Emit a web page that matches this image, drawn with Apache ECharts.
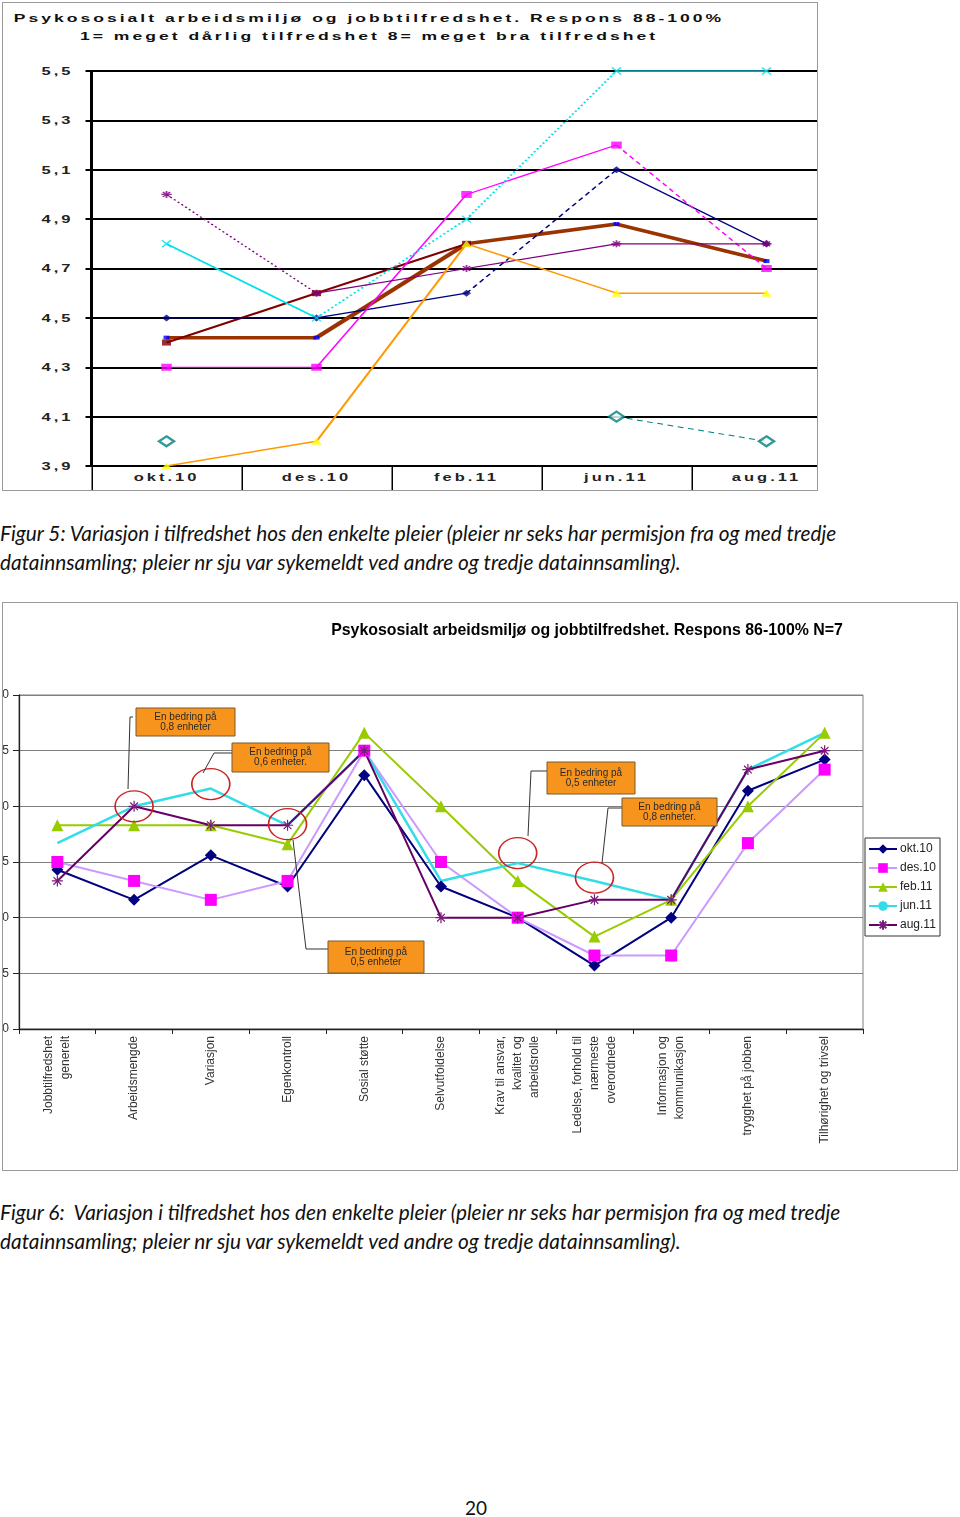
<!DOCTYPE html>
<html><head><meta charset="utf-8">
<script src="https://cdn.jsdelivr.net/npm/echarts@6/dist/echarts.min.js"></script>
<style>
html,body{margin:0;padding:0;background:#fff;}
body{width:960px;height:1517px;position:relative;overflow:hidden;font-family:'Liberation Sans',Arial,sans-serif;}
#box1{position:absolute;left:2px;top:2px;width:816px;height:489px;border:1px solid #9a9a9a;box-sizing:border-box;overflow:hidden;background:#fff;}
#c1{position:absolute;left:-3px;top:-3px;width:600px;height:494px;transform:scaleX(1.5);transform-origin:0 0;}
#c1 text{letter-spacing:2px;}
#box2{position:absolute;left:2px;top:602px;width:956px;height:569px;border:1px solid #9a9a9a;box-sizing:border-box;overflow:hidden;background:#fff;}
#c2{position:absolute;left:0;top:0;width:954px;height:567px;}
.cap{position:absolute;left:0;font-family:Lato,'Noto Sans',sans-serif;font-style:italic;font-size:20.8px;white-space:pre;color:#111;line-height:24px;}
#pg{position:absolute;left:0;width:952px;text-align:center;top:1497px;font-family:Lato,sans-serif;font-size:19px;line-height:22px;color:#111;}
</style></head>
<body>
<div id="box1"><div id="c1"></div></div>
<div class="cap" style="top:521px">Figur 5: Variasjon i tilfredshet hos den enkelte pleier (pleier nr seks har permisjon fra og med tredje</div>
<div class="cap" style="top:550px">datainnsamling; pleier nr sju var sykemeldt ved andre og tredje datainnsamling).</div>
<div id="box2"><div id="c2"></div></div>
<div class="cap" style="top:1200px">Figur 6:  Variasjon i tilfredshet hos den enkelte pleier (pleier nr seks har permisjon fra og med tredje</div>
<div class="cap" style="top:1229px">datainnsamling; pleier nr sju var sykemeldt ved andre og tredje datainnsamling).</div>
<div id="pg">20</div>
<script>
// ---------- Figure 5 data ----------
const cats1 = ['okt.10', 'des.10', 'feb.11', 'jun.11', 'aug.11'];
const yTicks1 = [3.9, 4.1, 4.3, 4.5, 4.7, 4.9, 5.1, 5.3, 5.5];
const pleierA = [4.5, 4.5, 4.6, 5.1, 4.8];
const pleierB = [4.3, 4.3, 5.0, 5.2, 4.7];
const pleierC = [4.8, 4.5, 4.9, 5.5, 5.5];
const pleierD = [5.0, 4.6, 4.7, 4.8, 4.8];
const pleierE = [4.4, 4.6, 4.8, null, null];
const pleierF = [4.42, 4.42, 4.8, 4.88, 4.73];
const pleierG = [3.9, 4.0, 4.8, 4.6, 4.6];
const pleierH = [4.0, null, null, 4.1, 4.0];
const title1a = 'Psykososialt arbeidsmiljø og jobbtilfredshet. Respons 88-100%';
const title1b = '1= meget dårlig tilfredshet 8= meget bra tilfredshet';

// ---------- Figure 6 data ----------
const cats2 = ['Jobbtilfredshet\ngenerelt', 'Arbeidsmengde', 'Variasjon', 'Egenkontroll', 'Sosial støtte',
  'Selvutfoldelse', 'Krav til ansvar,\nkvalitet og\narbeidsrolle', 'Ledelse, forhold til\nnærmeste\noverordnede',
  'Informasjon og\nkommunikasjon', 'trygghet på jobben', 'Tilhørighet og trivsel'];
const seriesNames2 = ['okt.10', 'des.10', 'feb.11', 'jun.11', 'aug.11'];
const okt10 = [4.43, 4.16, 4.56, 4.28, 5.28, 4.28, 4.0, 3.57, 4.0, 5.14, 5.42];
const des10 = [4.5, 4.33, 4.16, 4.33, 5.5, 4.5, 4.0, 3.66, 3.66, 4.67, 5.33];
const feb11 = [4.83, 4.83, 4.83, 4.66, 5.66, 5.0, 4.33, 3.83, 4.16, 5.0, 5.66];
const jun11 = [4.67, 5.0, 5.16, 4.83, 5.5, 4.33, 4.49, 4.33, 4.16, 5.33, 5.66];
const aug11 = [4.33, 5.0, 4.83, 4.83, 5.5, 4.0, 4.0, 4.16, 4.16, 5.33, 5.5];
const title2 = 'Psykososialt arbeidsmiljø og jobbtilfredshet. Respons 86-100% N=7';
const noteTexts = ['En bedring på\n0,8 enheter', 'En bedring på\n0,6 enheter.', 'En bedring på\n0,5 enheter',
  'En bedring på\n0,8 enheter.', 'En bedring på\n0,5 enheter'];
const circleIdx = [1, 2, 3, 6, 7];
const circleVal = [5.0, 5.2, 4.84, 4.58, 4.36];

// ---------- Figure 5 chart ----------
const DOT = [1.5, 2], DASH = [4, 3];
const style1 = [
  {data: pleierF, color: '#993300', width: 3.5, seg: ['solid','solid','solid','solid'], symbol: 'rect', size: [4, 4], fill: '#0000ff'},
  {data: pleierE, color: '#800000', width: 2, seg: ['solid','solid','solid','solid'], symbol: 'rect', size: [6, 6], fill: '#800000'},
  {data: pleierA, color: '#000080', width: 1.2, seg: ['solid','solid',DASH,'solid'], symbol: 'diamond', size: [6, 7], fill: '#000080'},
  {data: pleierB, color: '#ff00ff', width: 1.2, seg: ['solid','solid','solid',DASH], symbol: 'rect', size: [7, 7], fill: '#ff00ff'},
  {data: pleierC, color: '#00e0e8', width: 1.5, seg: ['solid',DOT,DOT,'solid'], symbol: 'path://M0,0 L10,10 M10,0 L0,10', size: [6, 7], stroke: '#00e0e8'},
  {data: pleierD, color: '#800080', width: 1.2, seg: [DOT,'solid','solid','solid'], symbol: 'path://M0,5 L10,5 M5,0 L5,10 M1.5,1.5 L8.5,8.5 M8.5,1.5 L1.5,8.5', size: [7, 7], stroke: '#800080'},
  {data: pleierG, color: '#ff9900', width: 1.5, seg: ['solid','solid','solid','solid'], symbol: 'triangle', size: [7, 7], fill: '#ffff00'},
  {data: pleierH, color: '#008080', width: 1, seg: [DASH,DASH,DASH,DASH], symbol: 'emptyDiamond', size: [10, 10], fill: '#008080'}
];
const series1 = [];
style1.forEach((s, k) => {
  for (let i = 0; i < s.data.length - 1; i++) {
    if (s.data[i] == null || s.data[i + 1] == null) continue;
    series1.push({
      type: 'line', silent: true, animation: false, symbol: 'none', z: 2 + k * 0.01,
      data: s.data.map((v, j) => (j === i || j === i + 1) ? v : null),
      lineStyle: {color: s.color, width: s.width, type: s.seg[i]}
    });
  }
});
style1.forEach((s) => {
  series1.push({
    type: 'scatter', silent: true, animation: false, z: 5,
    symbol: s.symbol, symbolSize: s.size,
    data: s.data.map(v => v == null ? '-' : v),
    itemStyle: s.stroke ? {color: 'rgba(0,0,0,0)', borderColor: s.stroke, borderWidth: 1.2}
             : (s.symbol === 'emptyDiamond' ? {color: s.fill, borderWidth: 1.3} : {color: s.fill})
  });
});

const c1 = echarts.init(document.getElementById('c1'), null, {renderer: 'svg'});
c1.setOption({
  animation: false,
  backgroundColor: '#fff',
  title: {
    text: title1a + '\n' + title1b, left: 246, top: 9, padding: 0, textAlign: 'center',
    textStyle: {fontFamily: 'Liberation Sans', fontWeight: 'bold', fontSize: 11.7, lineHeight: 18, color: '#111'}
  },
  grid: {left: 61, top: 71, width: 500, height: 395, containLabel: false, outerBoundsMode: 'none'},
  xAxis: {
    type: 'category', data: cats1, boundaryGap: true,
    axisLine: {lineStyle: {color: '#000', width: 2}},
    axisTick: {show: true, length: 24, lineStyle: {color: '#000', width: 1}},
    axisLabel: {margin: 6, fontFamily: 'Liberation Sans', fontWeight: 'bold', fontSize: 11, color: '#222'},
    splitLine: {show: false}
  },
  yAxis: {
    type: 'value', min: yTicks1[0], max: yTicks1[yTicks1.length - 1], interval: 0.2,
    axisLine: {show: true, lineStyle: {color: '#000', width: 2}},
    axisTick: {show: true, length: 4, lineStyle: {color: '#000', width: 2}},
    axisLabel: {margin: 12, fontFamily: 'Liberation Sans', fontWeight: 'bold', fontSize: 11, color: '#222',
      formatter: v => v.toFixed(1).replace('.', ',')},
    splitLine: {lineStyle: {color: '#000', width: 2}}
  },
  series: series1
});

// ---------- Figure 6 chart ----------
const asterisk = 'path://M0,5 L10,5 M5,0 L5,10 M1.5,1.5 L8.5,8.5 M8.5,1.5 L1.5,8.5';
const c2 = echarts.init(document.getElementById('c2'));
const boxes = [
  {x: 133, y: 105, w: 99, h: 28},
  {x: 229, y: 140, w: 97, h: 29},
  {x: 544, y: 159, w: 88, h: 32},
  {x: 619, y: 195, w: 95, h: 28},
  {x: 325, y: 338, w: 96, h: 32}
];
const leaders = [
  [[130, 114], [127, 114], [125, 186]],
  [[229, 150], [211, 150], [200, 170]],
  [[544, 168], [528, 168], [525, 233]],
  [[619, 205], [605, 205], [599, 260]],
  [[325, 346], [303, 346], [290, 237]]
];
const graphics = [];
boxes.forEach((b, i) => {
  graphics.push({type: 'rect', z: 100, shape: {x: b.x, y: b.y, width: b.w, height: b.h},
    style: {fill: '#f7941e', stroke: '#7a5a2a', lineWidth: 1}});
  graphics.push({type: 'text', z: 101, x: b.x + b.w / 2, y: b.y + b.h / 2,
    style: {text: noteTexts[i], align: 'center', verticalAlign: 'middle', font: '10px "Liberation Sans"',
      fill: '#2a2a2a', lineHeight: 10}});
});
leaders.forEach(p => {
  graphics.push({type: 'polyline', z: 99, shape: {points: p}, style: {stroke: '#333', lineWidth: 1, fill: null}});
});

c2.setOption({
  animation: false,
  backgroundColor: '#fff',
  title: {
    text: title2, left: 584, top: 20, padding: 0, textAlign: 'center',
    textStyle: {fontFamily: 'Liberation Sans', fontWeight: 'bold', fontSize: 15.9, color: '#000'}
  },
  legend: {
    orient: 'vertical', left: 862, top: 235, padding: [5, 4, 5, 3],
    borderColor: '#333', borderWidth: 1, backgroundColor: '#fff',
    itemWidth: 28, itemHeight: 12, itemGap: 7,
    textStyle: {fontFamily: 'Liberation Sans', fontSize: 12, color: '#222', padding: [0, 0, 0, -2]},
    data: seriesNames2
  },
  grid: {left: 16, top: 92, width: 844, height: 334, show: true, borderColor: '#808080', borderWidth: 1,
    backgroundColor: '#fff', containLabel: false, outerBoundsMode: 'none'},
  xAxis: {
    type: 'category', data: cats2, boundaryGap: true,
    axisLine: {lineStyle: {color: '#222', width: 1.3}},
    axisTick: {show: true, length: 5, lineStyle: {color: '#222'}},
    axisLabel: {rotate: 90, margin: 7, fontFamily: 'Liberation Sans', fontSize: 12, lineHeight: 17, color: '#333', interval: 0}
  },
  yAxis: {
    type: 'value', min: 3, max: 6, interval: 0.5,
    axisLine: {show: true, lineStyle: {color: '#222', width: 1.3}},
    axisTick: {show: true, length: 6, lineStyle: {color: '#222'}},
    axisLabel: {margin: 10, fontFamily: 'Liberation Sans', fontSize: 12, color: '#333',
      formatter: v => v.toFixed(1).replace('.', ',')},
    splitLine: {lineStyle: {color: '#808080', width: 1}}
  },
  series: [
    {name: 'okt.10', type: 'line', data: okt10, symbol: 'diamond', symbolSize: 12,
      itemStyle: {color: '#000080'}, lineStyle: {color: '#000080', width: 2}},
    {name: 'des.10', type: 'line', data: des10, symbol: 'rect', symbolSize: 12,
      itemStyle: {color: '#ff00ff'}, lineStyle: {color: '#cc99ff', width: 2}},
    {name: 'feb.11', type: 'line', data: feb11, symbol: 'triangle', symbolSize: 12,
      itemStyle: {color: '#99cc00'}, lineStyle: {color: '#99cc00', width: 2}},
    {name: 'jun.11', type: 'line', data: jun11, symbol: 'none',
      itemStyle: {color: '#33dde8'}, lineStyle: {color: '#33dde8', width: 2.5},
      markPoint: {
        symbol: 'circle', symbolSize: [38, 31], silent: true,
        itemStyle: {color: 'rgba(0,0,0,0)', borderColor: '#cc2222', borderWidth: 1.5},
        label: {show: false},
        data: circleIdx.map((c, i) => ({coord: [c, circleVal[i]]}))
      }},
    {name: 'aug.11', type: 'line', data: aug11, symbol: asterisk, symbolSize: 11,
      itemStyle: {color: 'rgba(0,0,0,0)', borderColor: '#7a1a7a', borderWidth: 1.2},
      lineStyle: {color: '#660066', width: 2}}
  ],
  graphic: graphics
});
</script>
</body></html>
